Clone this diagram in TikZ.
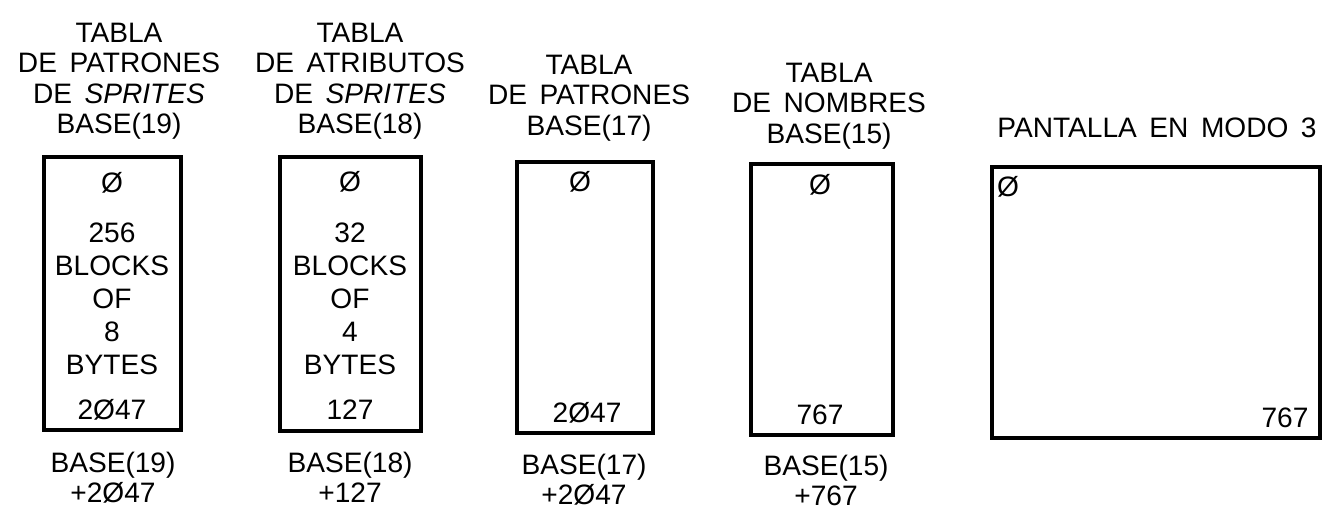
\documentclass[tikz,border=0pt]{standalone}
\usepackage{fontspec}
\setmainfont{Liberation Sans}
\newfontfamily\headfont[WordSpace=1.6]{Liberation Sans}
\begin{document}
\begin{tikzpicture}[x=0.02cm, y=-0.02cm,
    mem/.style={line width=2.3pt},
    head/.style={anchor=north, inner sep=0pt, align=center, font=\headfont\fontsize{16}{17.2}\selectfont},
    cell/.style={inner sep=0pt, font=\fontsize{16}{18.7}\selectfont},
    blocks/.style={cell, anchor=north, align=center},
    addr/.style={anchor=north, inner sep=0pt, align=center, font=\fontsize{16}{17}\selectfont}]
    \useasboundingbox (0,0) rectangle (1338,510);

    % Sprite patterns
    \node[head] (hdSprPat) at (119,23) {TABLA\\DE PATRONES\\DE \textit{SPRITES}\\BASE(19)};
    \draw[mem] (44,157) rectangle (181,430);
    \node[cell] (zSprPat) at (112,183) {Ø};
    \node[blocks] (bkSprPat) at (112,223) {256\\BLOCKS\\OF\\8\\BYTES};
    \node[cell] (endSprPat) at (112,410) {2Ø47};
    \node[addr] (adSprPat) at (113,452) {BASE(19)\\+2Ø47};

    % Sprite attributes
    \node[head] (hdSprAtt) at (360,23) {TABLA\\DE ATRIBUTOS\\DE \textit{SPRITES}\\BASE(18)};
    \draw[mem] (280,157) rectangle (421,431);
    \node[cell] (zSprAtt) at (350,182) {Ø};
    \node[blocks] (bkSprAtt) at (350,223) {32\\BLOCKS\\OF\\4\\BYTES};
    \node[cell] (endSprAtt) at (350,410) {127};
    \node[addr] (adSprAtt) at (350,452) {BASE(18)\\+127};

    % Patterns
    \node[head] (hdPat) at (589,55) {TABLA\\DE PATRONES\\BASE(17)};
    \draw[mem] (517,162) rectangle (653,433);
    \node[cell] (zPat) at (580,182) {Ø};
    \node[cell] (endPat) at (587,413) {2Ø47};
    \node[addr] (adPat) at (584,454) {BASE(17)\\+2Ø47};

    % Names
    \node[head] (hdNom) at (829,63) {TABLA\\DE NOMBRES\\BASE(15)};
    \draw[mem] (751,164) rectangle (893,435);
    \node[cell] (zNom) at (820,185) {Ø};
    \node[cell] (endNom) at (820,415) {767};
    \node[addr] (adNom) at (826,455) {BASE(15)\\+767};

    % Screen
    \node[head] (hdScr) at (1157,118) {PANTALLA EN MODO 3};
    \draw[mem] (992,167) rectangle (1320,438);
    \node[cell] (zScr) at (1008,187) {Ø};
    \node[cell] (endScr) at (1285,418) {767};
\end{tikzpicture}
\end{document}
